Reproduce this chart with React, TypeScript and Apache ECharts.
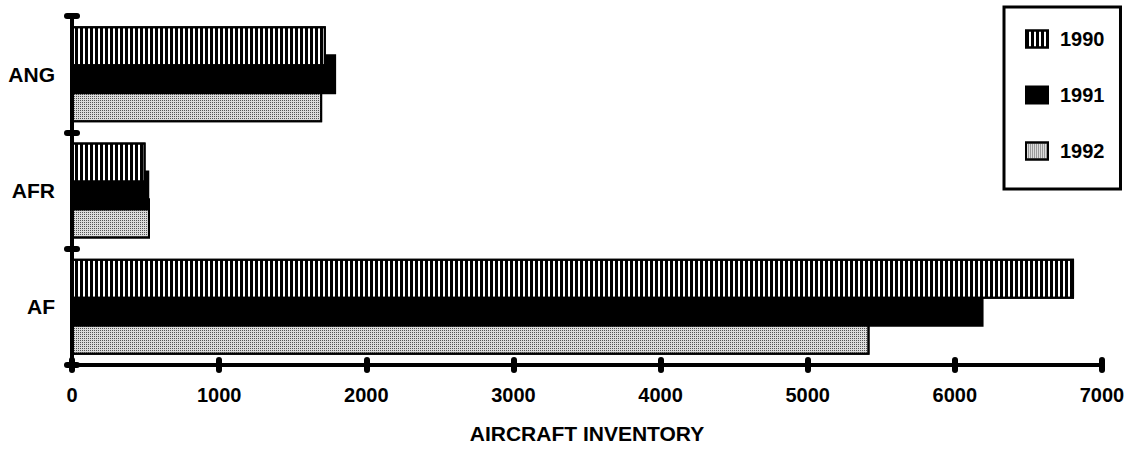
import React, { useEffect, useRef } from "react";
import * as echarts from "echarts";

const categories = ["AF", "AFR", "ANG"];
const seriesNames = ["1990", "1991", "1992"];
const values1990 = [6810, 500, 1725];
const values1991 = [6195, 525, 1795];
const values1992 = [5420, 530, 1700];
const xTicks = [0, 1000, 2000, 3000, 4000, 5000, 6000, 7000];

const FONT = "'Liberation Sans', Arial, Helvetica, sans-serif";

export default function App() {
  const ref = useRef<HTMLDivElement>(null);
  useEffect(() => {
    if (!ref.current) return;
    const chart = echarts.init(ref.current, undefined, { renderer: "svg" });
    const labelStyle = { color: "#000", fontFamily: FONT, fontWeight: "bold" as const, fontSize: 20 };
    const xMin = xTicks[0];
    const xMax = xTicks[xTicks.length - 1];
    const xInterval = xTicks[1] - xTicks[0];
    const border = { borderColor: "#000", borderWidth: 2 };
    chart.setOption({
      animation: false,
      backgroundColor: "#fff",
      grid: { left: 72, right: 34, top: 16, bottom: 83, containLabel: false },
      legend: {
        orient: "vertical",
        left: 1004,
        top: 7,
        padding: [22, 16, 28, 21],
        borderColor: "#000",
        borderWidth: 3,
        backgroundColor: "#fff",
        itemWidth: 22,
        itemHeight: 17,
        itemGap: 36,
        icon: "rect",
        data: seriesNames,
        textStyle: { ...labelStyle, padding: [7, 0, 0, 7] },
      },
      xAxis: [
        {
          type: "value",
          position: "bottom",
          min: xMin,
          max: xMax,
          interval: xInterval,
          z: 5,
          axisLine: { show: true, lineStyle: { color: "#000", width: 4 } },
          axisTick: { show: true, inside: false, length: 5, lineStyle: { color: "#000", width: 6, cap: "round" } },
          axisLabel: { ...labelStyle, margin: 20, formatter: (v: number) => String(v) },
          splitLine: { show: false },
          name: "AIRCRAFT INVENTORY",
          nameLocation: "middle",
          nameGap: 58,
          nameTextStyle: { ...labelStyle, fontSize: 21 },
        },
        {
          type: "value",
          position: "bottom",
          min: xMin,
          max: xMax,
          interval: xInterval,
          z: 5,
          axisLine: { show: false },
          axisTick: { show: true, inside: true, length: 5, lineStyle: { color: "#000", width: 6, cap: "round" } },
          axisLabel: { show: false },
          splitLine: { show: false },
        },
      ],
      yAxis: [
        {
          type: "category",
          position: "left",
          data: categories,
          z: 5,
          axisLine: { show: true, lineStyle: { color: "#000", width: 4 } },
          axisTick: { show: true, inside: false, length: 5, lineStyle: { color: "#000", width: 6, cap: "round" } },
          axisLabel: { ...labelStyle, fontSize: 21, margin: 17 },
          splitLine: { show: false },
        },
        {
          type: "category",
          position: "left",
          data: categories,
          z: 5,
          axisLine: { show: false },
          axisTick: { show: true, inside: true, length: 5, lineStyle: { color: "#000", width: 6, cap: "round" } },
          axisLabel: { show: false },
          splitLine: { show: false },
        },
      ],
      series: [
        {
          name: seriesNames[0],
          type: "bar",
          data: values1990,
          barWidth: 40,
          barGap: "-30%",
          z: 4,
          itemStyle: {
            color: "#fff",
            ...border,
            decal: { symbol: "rect", symbolSize: 1, color: "#000", dashArrayX: [3, 2], dashArrayY: [10, 0], rotation: 0 },
          },
        },
        {
          name: seriesNames[1],
          type: "bar",
          data: values1991,
          barWidth: 40,
          barGap: "-30%",
          z: 3,
          itemStyle: { color: "#000", ...border },
        },
        {
          name: seriesNames[2],
          type: "bar",
          data: values1992,
          barWidth: 40,
          barGap: "-30%",
          z: 2,
          itemStyle: {
            color: "#dcdcdc",
            ...border,
            decal: { symbol: "rect", symbolSize: 1, color: "#555", dashArrayX: [1, 1], dashArrayY: [1, 1], rotation: 0 },
          },
        },
      ],
    });
    return () => chart.dispose();
  }, []);
  return (
    <div
      ref={ref}
      style={{ position: "absolute", left: 0, top: 0, width: 1136, height: 449, background: "#fff" }}
    />
  );
}
